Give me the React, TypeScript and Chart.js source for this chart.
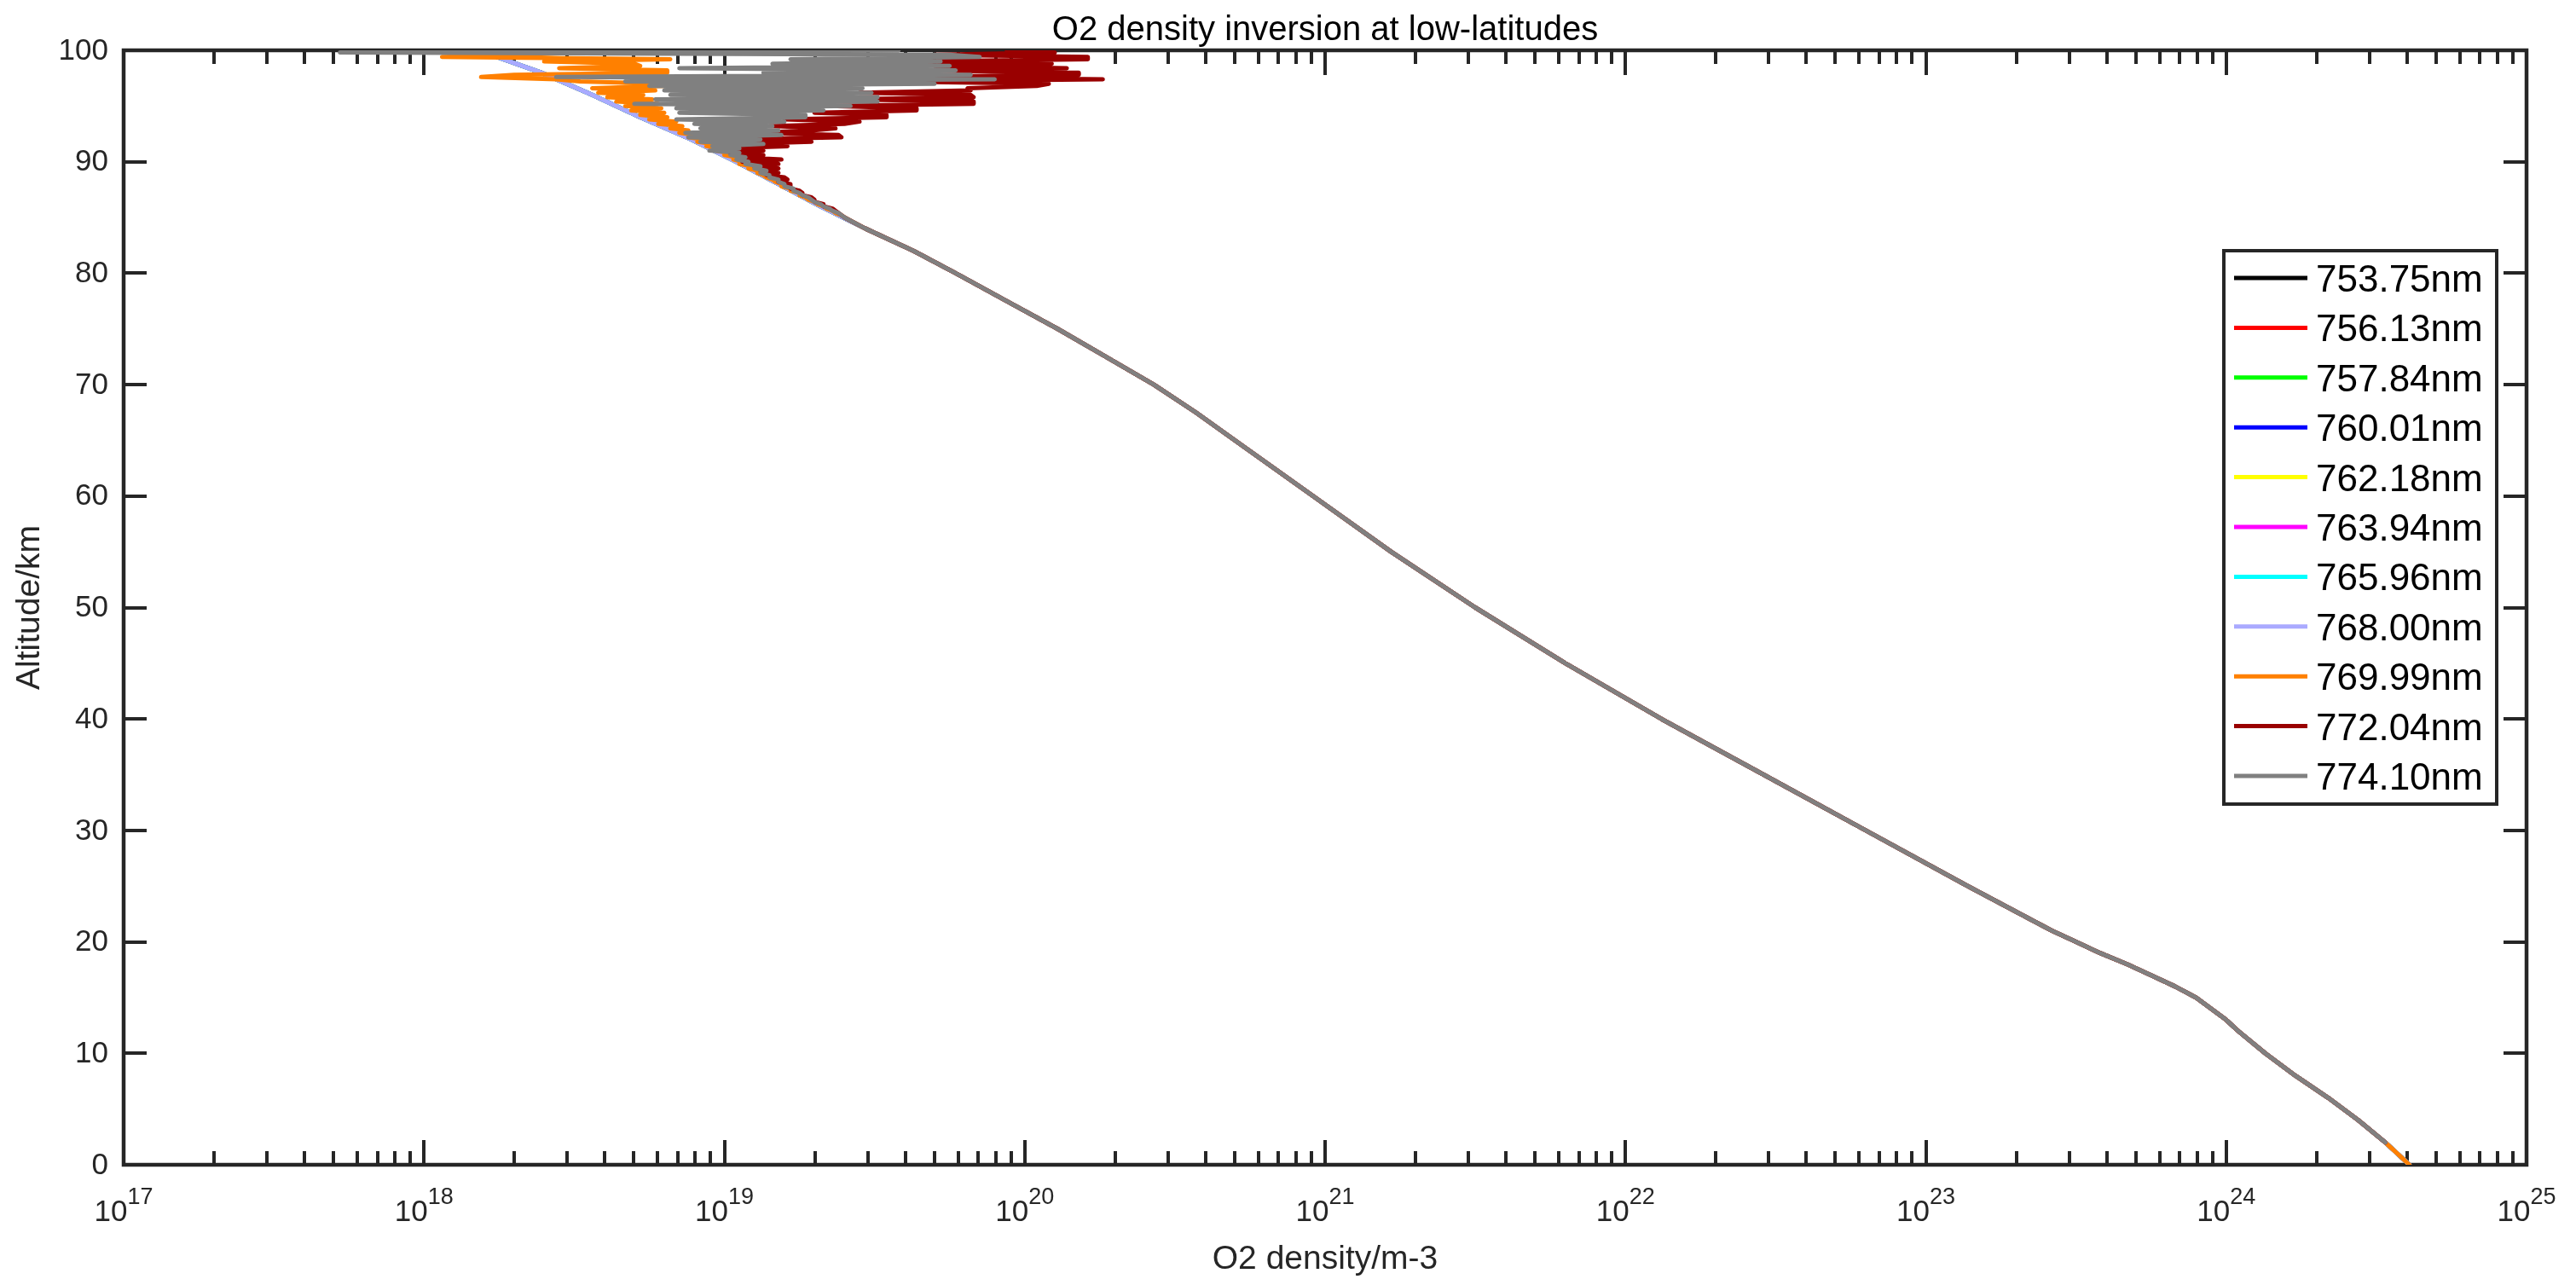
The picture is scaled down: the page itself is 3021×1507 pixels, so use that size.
import React, { useEffect, useRef } from "react";
import { Chart, registerables } from "chart.js";

Chart.register(...registerables);

const seriesLabels = [
  "753.75nm", "756.13nm", "757.84nm", "760.01nm", "762.18nm", "763.94nm",
  "765.96nm", "768.00nm", "769.99nm", "772.04nm", "774.10nm",
];
const seriesColors = [
  "#000000", "#ff0000", "#00ff00", "#0000ff", "#ffff00", "#ff00ff",
  "#00ffff", "#aaaaff", "#ff8000", "#990000", "#808080",
];

// smooth common profile (altitude km, log10 of O2 density m^-3)
const mainAlt = [0, 1, 2, 4, 6, 8, 10, 12, 13, 14, 15, 16, 17, 18, 19, 20, 21, 22, 25, 30, 35, 40, 45, 50, 55, 60, 65, 67.5, 70, 72.5, 75, 77.5, 80, 82, 84, 86, 88, 90, 92, 94, 96, 98, 100];
const mainLog = [24.61, 24.57, 24.53, 24.44, 24.34, 24.23, 24.13, 24.04, 24.00, 23.95, 23.90, 23.83, 23.75, 23.67, 23.58, 23.50, 23.42, 23.35, 23.14, 22.80, 22.46, 22.12, 21.80, 21.50, 21.22, 20.96, 20.70, 20.57, 20.43, 20.27, 20.11, 19.94, 19.77, 19.63, 19.47, 19.32, 19.18, 19.04, 18.89, 18.72, 18.56, 18.39, 18.18];

// fine altitude grid (0.2 km) of the noisy upper part, 85-100 km
const upperAlt = [
  85.0, 85.2, 85.4, 85.6, 85.8, 86.0, 86.2, 86.4, 86.6, 86.8,
  87.0, 87.2, 87.4, 87.6, 87.8, 88.0, 88.2, 88.4, 88.6, 88.8,
  89.0, 89.2, 89.4, 89.6, 89.8, 90.0, 90.2, 90.4, 90.6, 90.8,
  91.0, 91.2, 91.4, 91.6, 91.8, 92.0, 92.2, 92.4, 92.6, 92.8,
  93.0, 93.2, 93.4, 93.6, 93.8, 94.0, 94.2, 94.4, 94.6, 94.8,
  95.0, 95.2, 95.4, 95.6, 95.8, 96.0, 96.2, 96.4, 96.6, 96.8,
  97.0, 97.2, 97.4, 97.6, 97.8, 98.0, 98.2, 98.4, 98.6, 98.8,
  99.0, 99.2, 99.4, 99.6, 99.8, 100.0,
];
const orangeLog = [
  19.40, 19.39, 19.37, 19.36, 19.34, 19.33, 19.31, 19.30, 19.28, 19.27,
  19.25, 19.25, 19.22, 19.22, 19.19, 19.19, 19.17, 19.16, 19.14, 19.13,
  19.11, 19.11, 19.08, 19.09, 19.05, 19.06, 19.03, 19.04, 19.00, 19.01,
  18.97, 18.99, 18.94, 18.96, 18.91, 18.93, 18.88, 18.90, 18.85, 18.88,
  18.82, 18.86, 18.78, 18.84, 18.75, 18.81, 18.72, 18.80, 18.69, 18.79,
  18.67, 18.78, 18.64, 18.76, 18.61, 18.73, 18.58, 18.77, 18.56, 18.80,
  18.80, 18.52, 18.44, 18.19, 18.30, 18.81, 18.81, 18.45, 18.72, 18.70,
  18.40, 18.82, 18.06, 18.30, 18.55, 18.60,
];
const darkRedLog = [
  19.40, 19.39, 19.38, 19.37, 19.36, 19.33, 19.33, 19.30, 19.30, 19.29,
  19.26, 19.26, 19.25, 19.22, 19.22, 19.22, 19.18, 19.21, 19.20, 19.14,
  19.18, 19.12, 19.18, 19.10, 19.18, 19.06, 19.19, 19.05, 19.13, 19.02,
  19.13, 19.00, 19.21, 19.05, 19.29, 19.05, 19.39, 19.38, 19.10, 19.29,
  19.37, 19.15, 19.40, 19.45, 19.20, 19.54, 19.54, 19.30, 19.64, 19.64,
  19.35, 19.83, 19.83, 19.40, 19.83, 19.82, 19.45, 19.82, 19.81, 20.04,
  20.08, 19.55, 20.26, 19.60, 20.18, 20.18, 19.65, 20.14, 19.70, 20.09,
  19.65, 20.21, 20.21, 19.70, 20.10, 19.94,
];
const grayLog = [
  19.40, 19.39, 19.38, 19.36, 19.35, 19.33, 19.32, 19.30, 19.29, 19.28,
  19.26, 19.25, 19.23, 19.23, 19.20, 19.20, 19.18, 19.18, 19.15, 19.15,
  19.12, 19.14, 19.10, 19.12, 19.07, 19.08, 19.04, 19.07, 19.02, 19.05,
  18.95, 19.05, 18.96, 19.13, 18.92, 19.12, 18.88, 19.19, 18.87, 19.18,
  18.92, 19.16, 18.90, 19.20, 18.84, 19.27, 19.27, 18.85, 19.33, 18.84,
  19.42, 18.70, 19.51, 18.77, 19.51, 18.82, 19.49, 18.80, 19.46, 18.75,
  19.70, 18.67, 19.90, 18.44, 19.82, 19.13, 19.77, 18.85, 19.75, 19.16,
  19.72, 19.22, 19.85, 19.75, 17.72, 19.58,
];

const yTicks = [0, 10, 20, 30, 40, 50, 60, 70, 80, 90, 100];
const xDecades = [17, 18, 19, 20, 21, 22, 23, 24, 25];

const AXIS = "#262626";
const FONT = "'Liberation Sans', Arial, Helvetica, sans-serif";
const LINE_W = 5;

function pts(alts: number[], logs: number[], minAlt: number, maxAlt: number) {
  const out: { x: number; y: number }[] = [];
  for (let i = 0; i < alts.length; i++) {
    if (alts[i] >= minAlt && alts[i] < maxAlt) out.push({ x: Math.pow(10, logs[i]), y: alts[i] });
  }
  return out;
}

function buildSeries(index: number) {
  if (index < 8) return pts(mainAlt, mainLog, 0, 101);
  const start = index === 8 ? 0 : 2;
  const upper = index === 8 ? orangeLog : index === 9 ? darkRedLog : grayLog;
  return [...pts(mainAlt, mainLog, start, 85), ...pts(upperAlt, upper, 0, 101)];
}

const framePlugin = {
  id: "matlabFrame",
  beforeDatasetsDraw(chart: any) {
    const { ctx, chartArea: a, scales } = chart;
    const x = scales.x, y = scales.y;
    ctx.save();
    ctx.strokeStyle = AXIS;
    ctx.lineWidth = 4;
    ctx.lineCap = "butt";
    ctx.beginPath();
    for (let d = xDecades[0]; d <= xDecades[xDecades.length - 1]; d++) {
      const kMax = d === xDecades[xDecades.length - 1] ? 1 : 9;
      for (let k = 1; k <= kMax; k++) {
        const px = Math.round(x.getPixelForValue(k * Math.pow(10, d)));
        const len = k === 1 ? 29 : 16;
        ctx.moveTo(px, a.bottom);
        ctx.lineTo(px, a.bottom - len);
        ctx.moveTo(px, a.top);
        ctx.lineTo(px, a.top + len);
      }
    }
    for (const t of yTicks) {
      const py = Math.round(y.getPixelForValue(t));
      ctx.moveTo(a.left, py);
      ctx.lineTo(a.left + 27, py);
      ctx.moveTo(a.right, py);
      ctx.lineTo(a.right - 27, py);
    }
    ctx.stroke();
    ctx.lineWidth = 4.5;
    ctx.strokeRect(a.left, a.top, a.right - a.left, a.bottom - a.top);

    ctx.fillStyle = AXIS;
    ctx.font = `35px ${FONT}`;
    ctx.textAlign = "right";
    ctx.textBaseline = "middle";
    for (const t of yTicks) {
      ctx.fillText(String(t), a.left - 18, y.getPixelForValue(t) + 1);
    }
    ctx.textAlign = "left";
    ctx.textBaseline = "alphabetic";
    for (const d of xDecades) {
      const px = x.getPixelForValue(Math.pow(10, d));
      ctx.font = `35px ${FONT}`;
      const wb = ctx.measureText("10").width;
      ctx.font = `27px ${FONT}`;
      const we = ctx.measureText(String(d)).width;
      const sx = px - (wb + we) / 2;
      ctx.font = `35px ${FONT}`;
      ctx.fillText("10", sx, a.bottom + 66);
      ctx.font = `27px ${FONT}`;
      ctx.fillText(String(d), sx + wb, a.bottom + 46);
    }
    ctx.font = `39px ${FONT}`;
    ctx.textAlign = "center";
    ctx.fillText("O2 density/m-3", (a.left + a.right) / 2, a.bottom + 122);
    ctx.save();
    ctx.translate(35, (a.top + a.bottom) / 2);
    ctx.rotate(-Math.PI / 2);
    ctx.textBaseline = "middle";
    ctx.fillText("Altitude/km", 0, 0);
    ctx.restore();
    ctx.fillStyle = "#000000";
    ctx.font = `40px ${FONT}`;
    ctx.textAlign = "center";
    ctx.textBaseline = "alphabetic";
    ctx.fillText("O2 density inversion at low-latitudes", (a.left + a.right) / 2, a.top - 12);
    ctx.restore();
  },
  afterDraw(chart: any) {
    const { ctx } = chart;
    const bx = 2608, by = 294, bw = 320, bh = 649;
    ctx.save();
    ctx.fillStyle = "#ffffff";
    ctx.fillRect(bx, by, bw, bh);
    ctx.strokeStyle = AXIS;
    ctx.lineWidth = 4;
    ctx.strokeRect(bx, by, bw, bh);
    const ds = chart.data.datasets;
    ctx.font = `44px ${FONT}`;
    ctx.textAlign = "left";
    ctx.textBaseline = "alphabetic";
    for (let i = 0; i < ds.length; i++) {
      const ly = by + 32 + i * 58.4;
      ctx.strokeStyle = ds[i].borderColor;
      ctx.lineWidth = LINE_W;
      ctx.beginPath();
      ctx.moveTo(bx + 12, ly);
      ctx.lineTo(bx + 98, ly);
      ctx.stroke();
      ctx.fillStyle = "#000000";
      ctx.fillText(ds[i].label, bx + 108, ly + 16);
    }
    ctx.restore();
  },
};

export default function App() {
  const ref = useRef<HTMLCanvasElement | null>(null);
  useEffect(() => {
    if (!ref.current) return;
    const n = seriesLabels.length;
    const datasets = seriesLabels.map((label, i) => ({
      label,
      data: buildSeries(i),
      borderColor: seriesColors[i],
      backgroundColor: seriesColors[i],
      borderWidth: LINE_W,
      pointRadius: 0,
      pointHoverRadius: 0,
      tension: 0,
      fill: false,
      order: n - 1 - i,
      borderJoinStyle: "round" as const,
      borderCapStyle: "round" as const,
    }));
    const chart = new Chart(ref.current, {
      type: "line",
      data: { datasets },
      options: {
        animation: false,
        responsive: false,
        devicePixelRatio: 1,
        events: [],
        layout: { padding: { left: 145, right: 58, top: 59, bottom: 141 } },
        plugins: { legend: { display: false }, title: { display: false }, tooltip: { enabled: false } },
        scales: {
          x: { type: "logarithmic", min: 1e17, max: 1e25, display: false },
          y: { type: "linear", min: 0, max: 100, display: false },
        },
      },
      plugins: [framePlugin],
    });
    return () => chart.destroy();
  }, []);
  return (
    <div style={{ position: "fixed", left: 0, top: 0, width: 3021, height: 1507, background: "#fff" }}>
      <canvas ref={ref} width={3021} height={1507} style={{ width: 3021, height: 1507, display: "block" }} />
    </div>
  );
}
